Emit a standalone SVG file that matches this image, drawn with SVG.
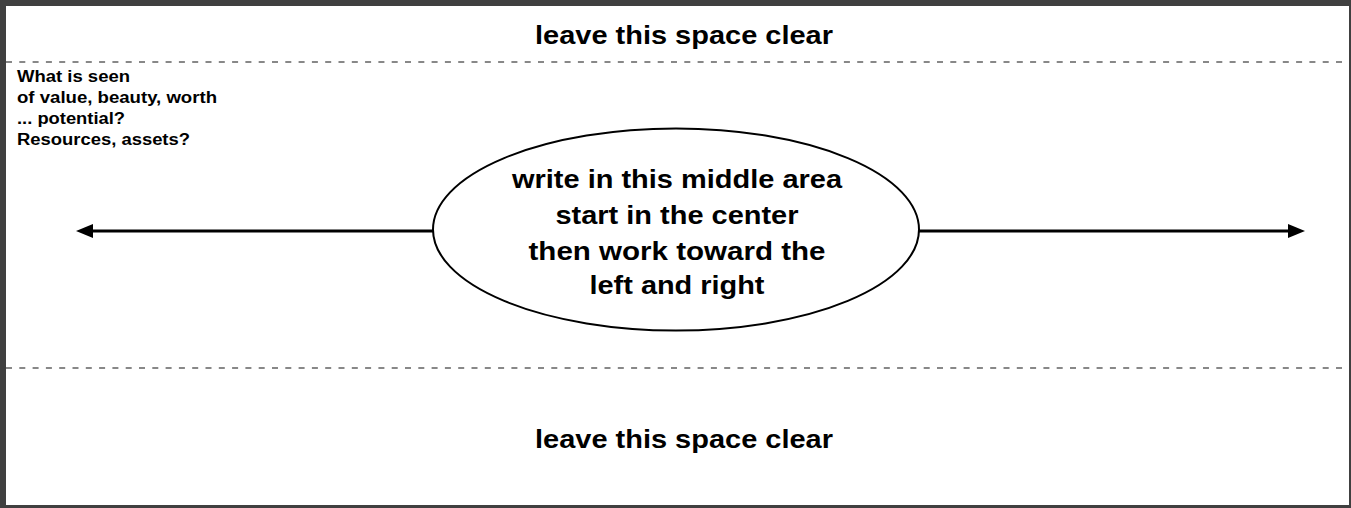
<svg xmlns="http://www.w3.org/2000/svg" width="1351" height="508" viewBox="0 0 1351 508">
<style>
  .t{font-family:"Liberation Sans",Arial,Helvetica,sans-serif;font-weight:bold;fill:#000}
  .big{font-size:26px}
  .mid{font-size:25px}
  .small{font-size:16px}
  .dash{stroke:#888;stroke-width:2;stroke-dasharray:6 7.3;fill:none}
  .conn{stroke:#000;stroke-width:3;fill:none}
</style>
<defs>
  <marker id="ah" viewBox="0 0 17 14" refX="1" refY="7" markerWidth="17" markerHeight="14" markerUnits="userSpaceOnUse" orient="auto">
    <path d="M0,0 L17,7 L0,14 Z" fill="#000"/>
  </marker>
</defs>
<rect x="0" y="0" width="1351" height="508" fill="#404040"/>
<rect x="6" y="6" width="1343" height="499" fill="#fff"/>
<g id="zones">
  <line class="dash" x1="6" y1="62" x2="1349" y2="62"/>
  <line class="dash" x1="6" y1="368" x2="1349" y2="368"/>
</g>
<g id="top-label">
  <text class="t big" x="684" y="44" text-anchor="middle" textLength="298" lengthAdjust="spacingAndGlyphs">leave this space clear</text>
</g>
<g id="bottom-label">
  <text class="t big" x="684" y="448" text-anchor="middle" textLength="298" lengthAdjust="spacingAndGlyphs">leave this space clear</text>
</g>
<g id="left-note">
  <text class="t small" x="17" y="82" textLength="113" lengthAdjust="spacingAndGlyphs">What is seen</text>
  <text class="t small" x="17" y="103" textLength="200" lengthAdjust="spacingAndGlyphs">of value, beauty, worth</text>
  <text class="t small" x="17" y="124" textLength="108" lengthAdjust="spacingAndGlyphs">... potential?</text>
  <text class="t small" x="17" y="145" textLength="173" lengthAdjust="spacingAndGlyphs">Resources, assets?</text>
</g>
<g id="connectors">
  <line class="conn" x1="433" y1="231" x2="92" y2="231" marker-end="url(#ah)"/>
  <line class="conn" x1="919" y1="231" x2="1289" y2="231" marker-end="url(#ah)"/>
</g>
<g id="center">
  <ellipse cx="676" cy="229.5" rx="243" ry="101" fill="#fff" stroke="#000" stroke-width="2"/>
  <text class="t mid" x="677" y="188" text-anchor="middle" textLength="330" lengthAdjust="spacingAndGlyphs">write in this middle area</text>
  <text class="t mid" x="677" y="224" text-anchor="middle" textLength="243" lengthAdjust="spacingAndGlyphs">start in the center</text>
  <text class="t mid" x="677" y="260" text-anchor="middle" textLength="297" lengthAdjust="spacingAndGlyphs">then work toward the</text>
  <text class="t mid" x="677" y="294" text-anchor="middle" textLength="175" lengthAdjust="spacingAndGlyphs">left and right</text>
</g>
</svg>
